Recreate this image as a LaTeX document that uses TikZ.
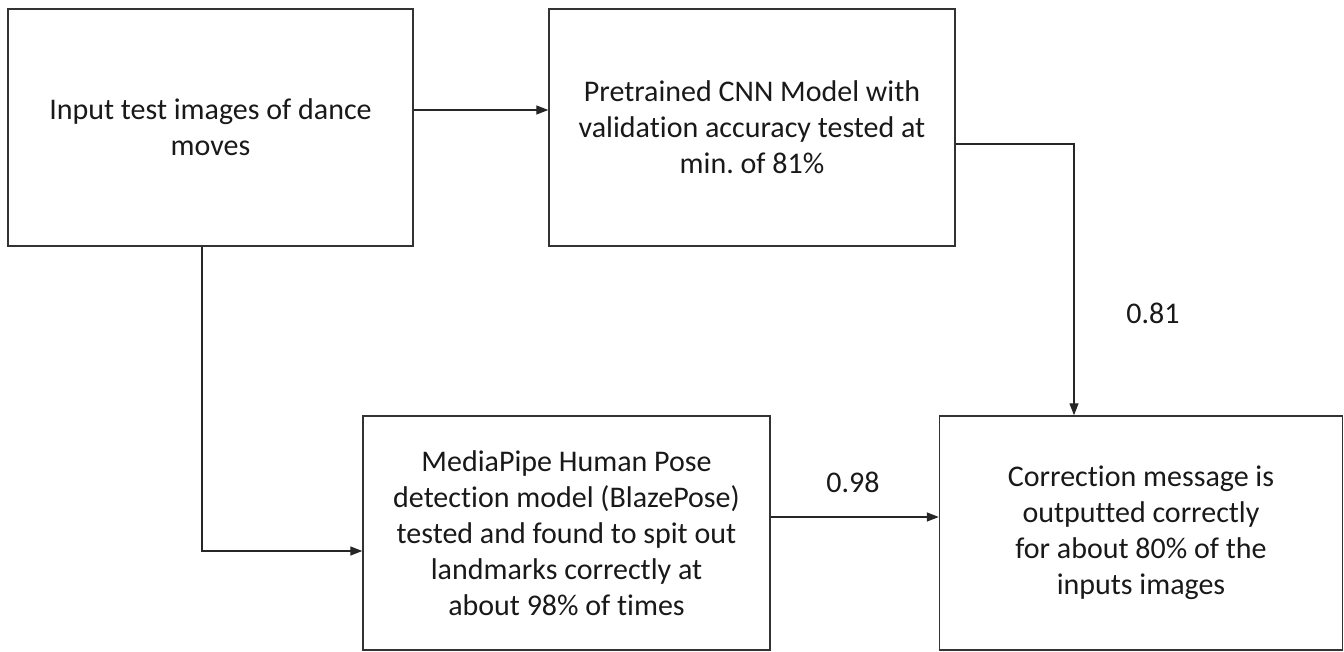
\documentclass[tikz,border=0pt]{standalone}
\usepackage{fontspec}
\setmainfont{Carlito}[Ligatures=CommonOff]
\usetikzlibrary{arrows.meta}
\begin{document}
\begin{tikzpicture}[x=1pt,y=-1pt,
  box/.style={draw=black!80,line width=1.4pt,align=center,inner sep=0pt,
    font=\fontsize{30}{36}\selectfont,text=black!90},
  arr/.style={draw=black!85,line width=1.3pt,-{Triangle[length=12pt,width=9pt]}},
  lbl/.style={font=\fontsize{30}{36}\selectfont,text=black!90,inner sep=0pt}]
\useasboundingbox (0,0) rectangle (1344,652);
\node[box,minimum width=405pt,minimum height=237pt] (A) at (210.5,127.5)
  {Input test images of dance\\moves};
\node[box,minimum width=406pt,minimum height=237pt] (B) at (752,127.5)
  {Pretrained CNN Model with\\validation accuracy tested at\\min.\ of 81\%};
\node[box,minimum width=407pt,minimum height=234pt] (C) at (566.5,533)
  {MediaPipe Human Pose\\detection model (BlazePose)\\tested and found to spit out\\landmarks correctly at\\about 98\% of times};
\node[box,minimum width=403pt,minimum height=234pt] (D) at (1141,533)
  {Correction message is\\outputted correctly\\for about 80\% of the\\inputs images};
\draw[arr] ([yshift=17.5pt]A.east) -- ([yshift=17.5pt]B.west);
\draw[arr] ([yshift=-16.5pt]B.east) -| ([xshift=-67pt]D.north);
\draw[arr] ([xshift=-8.5pt]A.south) |- ([yshift=-18pt]C.west);
\draw[arr] ([yshift=16pt]C.east) -- ([yshift=16pt]D.west);
\node[lbl] (l81) at (1153,313) {0.81};
\node[lbl] (l98) at (853,482) {0.98};
\end{tikzpicture}
\end{document}
